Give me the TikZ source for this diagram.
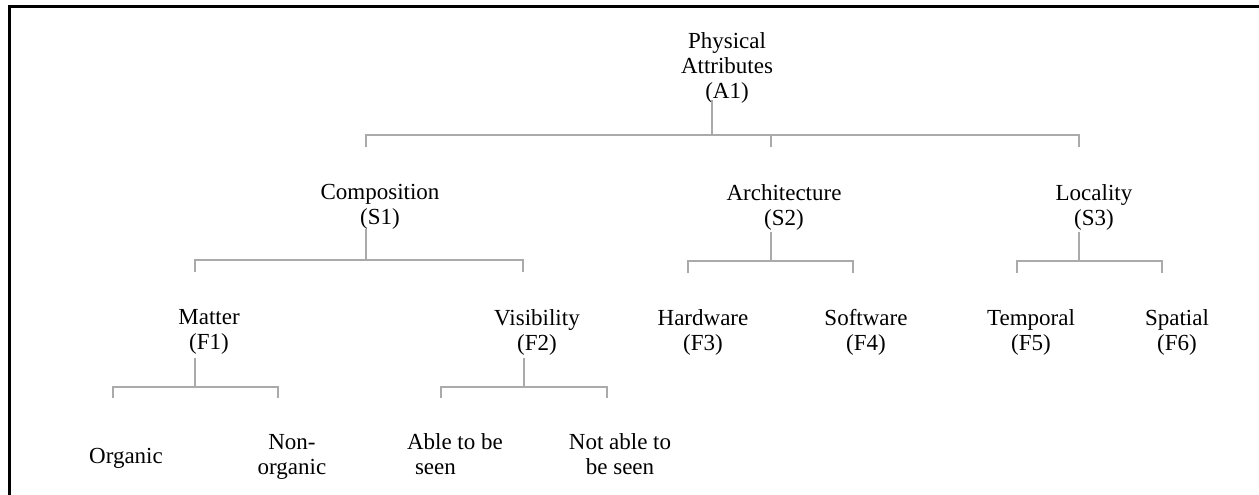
\documentclass[tikz,border=0pt]{standalone}
\usepackage{fontspec}
\setmainfont{Liberation Serif}
\begin{document}
\begin{tikzpicture}[x=1pt,y=-1pt,
  lbl/.style={inner sep=0pt,outer sep=0pt,align=center,anchor=north,font=\fontsize{23}{25}\selectfont,
    execute at begin node={\rule{0pt}{17pt}}},
  conn/.style={draw={rgb,255:red,170;green,170;blue,170},line width=1.5pt},
  frame/.style={draw=black,line width=3pt}]
\useasboundingbox (0,0) rectangle (1259,495);
% frame
\coordinate (FL) at (9,495);
\coordinate (FC) at (9,7);
\coordinate (FR) at (1259,7);
\draw[frame] (FL) -- (FC) -- (FR);
% nodes
\node[lbl] (A1) at (727,33) {Physical\\Attributes\\(A1)};
\node[lbl] (S1) at (380,184.5) {Composition\\(S1)};
\node[lbl] (S2) at (784,184.5) {Architecture\\(S2)};
\node[lbl] (S3) at (1094,184.5) {Locality\\(S3)};
\node[lbl] (F1) at (209,309.5) {Matter\\(F1)};
\node[lbl] (F2) at (537,309.5) {Visibility\\(F2)};
\node[lbl] (F3) at (703,309.5) {Hardware\\(F3)};
\node[lbl] (F4) at (866,309.5) {Software\\(F4)};
\node[lbl] (F5) at (1031,309.5) {Temporal\\(F5)};
\node[lbl] (F6) at (1177,309.5) {Spatial\\(F6)};
\node[lbl] (L1) at (126,446) {Organic};
\node[lbl] (L2) at (292,434) {Non-\\organic};
\node[lbl,align=left,anchor=north west] (L3) at (407,434) {Able to be\\\hspace*{8pt}seen};
\node[lbl] (L4) at (620,434) {Not able to\\be seen};
% junction coordinates
\coordinate (A1t) at (712,100);
\coordinate (A1b) at (712,135);
\coordinate (S1d) at (366,147);
\coordinate (S2d) at (771,147);
\coordinate (S3d) at (1079,147);
\coordinate (S1t) at (366,229);
\coordinate (S1b) at (366,260);
\coordinate (F1d) at (195,272);
\coordinate (F2d) at (523,272);
\coordinate (S2t) at (771,232);
\coordinate (S2b) at (771,261);
\coordinate (F3d) at (688,273);
\coordinate (F4d) at (853,273);
\coordinate (S3t) at (1079,232);
\coordinate (S3b) at (1079,261);
\coordinate (F5d) at (1017,273);
\coordinate (F6d) at (1162,273);
\coordinate (F1t) at (195,358);
\coordinate (F1b) at (195,387);
\coordinate (L1d) at (113,398);
\coordinate (L2d) at (278,398);
\coordinate (F2t) at (524,358);
\coordinate (F2b) at (524,387);
\coordinate (L3d) at (441,398);
\coordinate (L4d) at (607,398);
% connectors
\draw[conn] (A1t) -- (A1b);
\draw[conn] (S1d) |- (A1b) -| (S3d);
\draw[conn] (A1b -| S2d) -- (S2d);
\draw[conn] (S1t) -- (S1b);
\draw[conn] (F1d) |- (S1b) -| (F2d);
\draw[conn] (S2t) -- (S2b);
\draw[conn] (F3d) |- (S2b) -| (F4d);
\draw[conn] (S3t) -- (S3b);
\draw[conn] (F5d) |- (S3b) -| (F6d);
\draw[conn] (F1t) -- (F1b);
\draw[conn] (L1d) |- (F1b) -| (L2d);
\draw[conn] (F2t) -- (F2b);
\draw[conn] (L3d) |- (F2b) -| (L4d);
\end{tikzpicture}
\end{document}
